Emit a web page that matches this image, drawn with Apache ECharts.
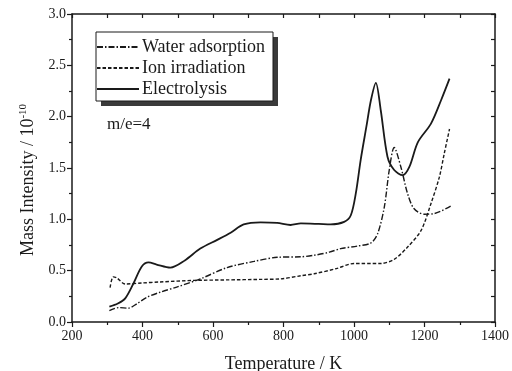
<!DOCTYPE html>
<html>
<head>
<meta charset="utf-8">
<script src="https://cdn.jsdelivr.net/npm/echarts@6/dist/echarts.min.js"></script>
<style>
  html, body { margin: 0; padding: 0; background: #fff; }
  #chart { width: 512px; height: 371px; }
</style>
</head>
<body>
<div id="chart"></div>
<script>
// Curves (temperature in K, intensity in 1e-10)
const electrolysisT = [306, 330, 351, 375, 398, 417, 440, 479, 520, 564, 612, 650, 687, 735, 782, 820, 849, 900, 934, 972, 991, 1005, 1019, 1035, 1048, 1062, 1076, 1095, 1114, 1138, 1157, 1181, 1218, 1247, 1271];
const electrolysisV = [0.15, 0.18, 0.23, 0.38, 0.54, 0.58, 0.56, 0.53, 0.60, 0.715, 0.80, 0.87, 0.95, 0.97, 0.965, 0.945, 0.96, 0.955, 0.95, 0.975, 1.04, 1.25, 1.58, 1.90, 2.16, 2.33, 2.06, 1.61, 1.48, 1.43, 1.51, 1.75, 1.93, 2.16, 2.37];

const waterT = [306, 332, 360, 385, 412, 450, 497, 564, 640, 716, 782, 849, 887, 930, 962, 1010, 1048, 1067, 1086, 1100, 1114, 1133, 1152, 1170, 1199, 1228, 1275];
const waterV = [0.11, 0.14, 0.135, 0.18, 0.24, 0.29, 0.34, 0.42, 0.53, 0.59, 0.63, 0.635, 0.65, 0.68, 0.715, 0.74, 0.77, 0.86, 1.12, 1.48, 1.70, 1.51, 1.25, 1.105, 1.05, 1.056, 1.13];

const ionT = [308, 317, 327, 351, 398, 450, 545, 640, 735, 792, 849, 887, 950, 1000, 1076, 1114, 1152, 1190, 1218, 1242, 1256, 1271];
const ionV = [0.335, 0.44, 0.43, 0.37, 0.38, 0.39, 0.405, 0.41, 0.415, 0.42, 0.45, 0.47, 0.52, 0.57, 0.57, 0.61, 0.73, 0.89, 1.15, 1.41, 1.64, 1.88];

const seriesNames = ["Water adsorption", "Ion irradiation", "Electrolysis"];

const INK = "#1a1a1a";
const FONT = "Liberation Serif";

function pairs(xs, ys) {
  return xs.map((x, i) => [x, ys[i]]);
}

const chart = echarts.init(document.getElementById("chart"));

const baseAxis = {
  type: "value",
  axisLine: { show: true, onZero: false, lineStyle: { color: INK, width: 1.5 } },
  splitLine: { show: false },
  minorTick: { show: true, splitNumber: 2, length: 3, lineStyle: { color: INK, width: 1.2 } },
  axisTick: { show: true, length: 5, lineStyle: { color: INK, width: 1.2 } },
  axisLabel: { color: INK, fontFamily: FONT, fontSize: 14 },
  nameTextStyle: { color: INK, fontFamily: FONT, fontSize: 18 },
};

const innerTicks = {
  axisLabel: { show: false },
  axisTick: { show: true, inside: true, length: 4, lineStyle: { color: INK, width: 1.2 } },
  minorTick: { show: true, splitNumber: 2, length: 4, lineStyle: { color: INK, width: 1.2 } },
};

const option = {
  animation: false,
  backgroundColor: "#fff",
  grid: { left: 72, right: 17, top: 14, bottom: 49, outerBoundsMode: "none" },
  legend: {
    data: seriesNames,
    orient: "vertical",
    left: 96,
    top: 38,
    padding: 0,
    itemWidth: 42,
    itemHeight: 14,
    itemGap: 3,
    itemStyle: { opacity: 0 },
    textStyle: { color: INK, fontFamily: FONT, fontSize: 18, padding: [0, 0, 0, -2] },
  },
  graphic: [
    // legend frame with its drop shadow
    {
      type: "rect",
      z: -1,
      shape: { x: 101, y: 37, width: 177, height: 69 },
      style: { fill: "#3a3a3a" },
    },
    {
      type: "rect",
      z: 0,
      shape: { x: 96, y: 32, width: 177, height: 69 },
      style: { fill: "#fff", stroke: INK, lineWidth: 1 },
    },
    {
      type: "text",
      left: 107,
      top: 116,
      style: { text: "m/e=4", fill: INK, font: "17px " + FONT },
    },
  ],
  xAxis: [
    Object.assign({}, baseAxis, {
      min: 200,
      max: 1400,
      interval: 200,
      position: "bottom",
      name: "Temperature / K",
      nameLocation: "middle",
      nameGap: 33,
      axisLabel: Object.assign({}, baseAxis.axisLabel, { margin: 7, formatter: (v) => String(v) }),
    }),
    Object.assign({}, baseAxis, { min: 200, max: 1400, interval: 200, position: "top" }, innerTicks),
  ],
  yAxis: [
    Object.assign({}, baseAxis, {
      min: 0,
      max: 3,
      interval: 0.5,
      position: "left",
      name: "Mass Intensity / 10{sup|-10}",
      nameLocation: "middle",
      nameGap: 28,
      nameTextStyle: {
        color: INK,
        fontFamily: FONT,
        fontSize: 18,
        padding: [0, 24, 0, 0],
        rich: { sup: { fontSize: 11, fontFamily: FONT, color: INK, padding: [0, 0, 10, 0] } },
      },
      axisLabel: Object.assign({}, baseAxis.axisLabel, {
        margin: 6,
        formatter: (v) => v.toFixed(1),
      }),
    }),
    Object.assign({}, baseAxis, { min: 0, max: 3, interval: 0.5, position: "right" }, innerTicks),
  ],
  series: [
    {
      name: seriesNames[0],
      type: "line",
      data: pairs(waterT, waterV),
      smooth: 0.3,
      symbol: "none",
      color: INK,
      lineStyle: { color: INK, width: 1.4, type: [6, 2, 1.5, 2] },
    },
    {
      name: seriesNames[1],
      type: "line",
      data: pairs(ionT, ionV),
      smooth: 0.3,
      symbol: "none",
      color: INK,
      lineStyle: { color: INK, width: 1.4, type: [3.5, 2] },
    },
    {
      name: seriesNames[2],
      type: "line",
      data: pairs(electrolysisT, electrolysisV),
      smooth: 0.3,
      symbol: "none",
      color: INK,
      lineStyle: { color: INK, width: 1.8 },
    },
  ],
};

chart.setOption(option);
</script>
</body>
</html>
